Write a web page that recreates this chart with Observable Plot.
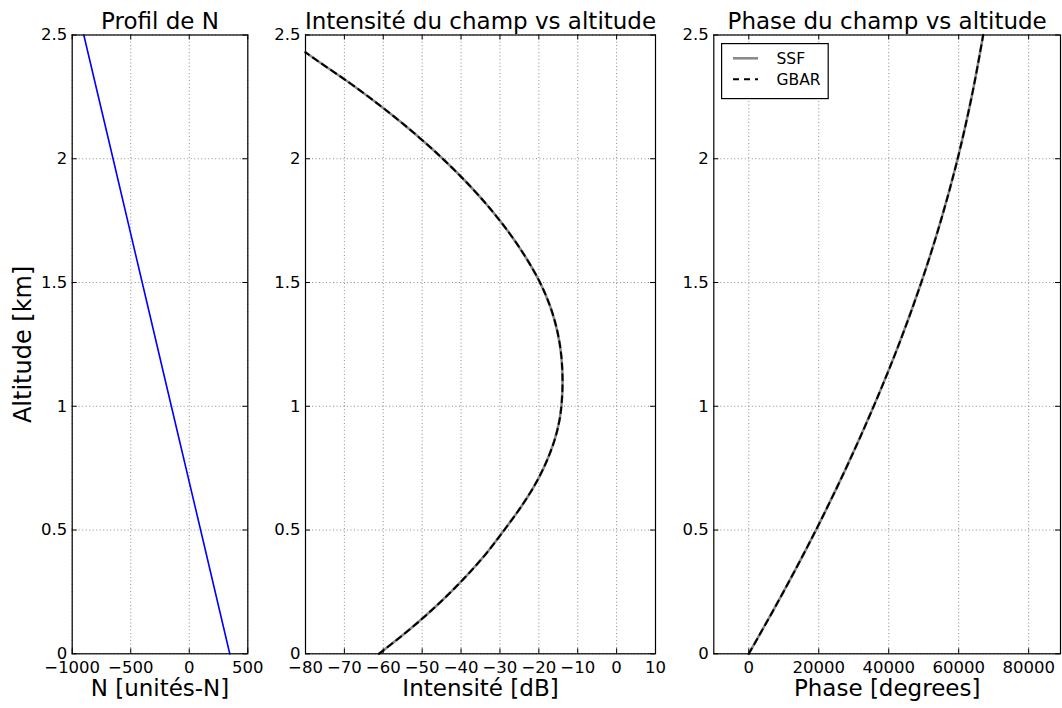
<!DOCTYPE html>
<html><head><meta charset="utf-8">
<script src="https://cdn.jsdelivr.net/npm/d3@7"></script>
<script src="https://cdn.jsdelivr.net/npm/@observablehq/plot@0.6"></script>
<style>
body{margin:0;background:#fff;}
#fig{position:relative;width:1062px;height:708px;overflow:hidden;font-family:"DejaVu Sans",sans-serif;background:#fff;}
#fig > svg{position:absolute;top:0;}
</style></head><body><div id="fig"></div>
<script>
// ---- Data ----
const nAltitude = [0, 0.5, 1, 1.5, 2, 2.5];
const nValues = [346, 97, -153, -402, -651, -901];

const intensityAltitude = [0, 0.1, 0.2, 0.3, 0.4, 0.5, 0.6, 0.7, 0.8, 0.9, 1.0, 1.1, 1.2, 1.3, 1.4, 1.5, 1.6, 1.7, 1.8, 1.9, 2.0, 2.1, 2.2, 2.3, 2.4, 2.43];
const intensitySSF  = [-61.1, -53.1, -45.9, -39.5, -33.8, -28.9, -24.3, -20.4, -17.4, -15.3, -14.2, -13.9, -14.2, -15.2, -17.0, -19.7, -23.3, -27.6, -32.6, -38.3, -44.7, -51.8, -59.6, -68.1, -77.3, -80];
const intensityGBAR = [-61.1, -53.1, -45.9, -39.5, -33.8, -28.9, -24.3, -20.4, -17.4, -15.3, -14.2, -13.9, -14.2, -15.2, -17.0, -19.7, -23.3, -27.6, -32.6, -38.3, -44.7, -51.8, -59.6, -68.1, -77.3, -80];

const phaseAltitude = [0, 0.25, 0.5, 0.75, 1.0, 1.25, 1.5, 1.75, 2.0, 2.25, 2.5];
const phaseSSF  = [0, 9900, 19200, 27800, 35700, 42900, 49300, 54900, 59700, 63700, 67000];
const phaseGBAR = [0, 9900, 19200, 27800, 35700, 42900, 49300, 54900, 59700, 63700, 67000];

const altitudeTicks = [0, 0.5, 1, 1.5, 2, 2.5];
const nTicks = [-1000, -500, 0, 500];
const intensityTicks = [-80, -70, -60, -50, -40, -30, -20, -10, 0, 10];
const phaseTicks = [0, 20000, 40000, 60000, 80000];

const titles = ["Profil de N", "Intensité du champ vs altitude", "Phase du champ vs altitude"];
const xLabels = ["N [unités-N]", "Intensité [dB]", "Phase [degrees]"];
const yLabel = "Altitude [km]";
const legendLabels = ["SSF", "GBAR"];

// ---- Layout ----
const H = 708, mTop = 34.5, mBottom = 708 - 653.3, frameH = H - mTop - mBottom;
const fig = document.getElementById("fig");
const gridStyle = {stroke: "#000", strokeOpacity: 0.5, strokeWidth: 0.9, strokeDasharray: "1,2.5"};
const fmtX = d3.format("d");
const fmtY = d3.format("~g");

function panel({left, marginLeft, frameW, marginRight, xDomain, xTicks, lines, title, xLabel, yLab}) {
  const inner = frameW;
  const marks = [
    Plot.gridX(xTicks, gridStyle),
    Plot.gridY(altitudeTicks, gridStyle),
    ...lines,
    Plot.frame({stroke: "black", strokeWidth: 1.2}),
    Plot.ruleX(xTicks, {x: d => d, insetTop: frameH - 5, stroke: "black"}),
    Plot.ruleX(xTicks, {x: d => d, insetBottom: frameH - 5, stroke: "black"}),
    Plot.ruleY(altitudeTicks, {y: d => d, insetRight: inner - 5, stroke: "black"}),
    Plot.ruleY(altitudeTicks, {y: d => d, insetLeft: inner - 5, stroke: "black"}),
    Plot.axisX(xTicks, {tickSize: 0, tickPadding: 7, fontSize: 16.5, label: null, tickFormat: fmtX}),
    Plot.axisY(altitudeTicks, {tickSize: 0, tickPadding: 5, fontSize: 16.5, label: null, tickFormat: fmtY}),
    Plot.text([title], {text: d => d, frameAnchor: "top", dy: -13, lineAnchor: "middle", fontSize: 23}),
    Plot.text([xLabel], {text: d => d, frameAnchor: "bottom", dy: 26, lineAnchor: "top", fontSize: 23})
  ];
  if (yLab) marks.push(Plot.text([yLab], {text: d => d, frameAnchor: "left", textAnchor: "middle", dx: -49, rotate: -90, lineAnchor: "middle", fontSize: 24}));
  const svg = Plot.plot({
    width: marginLeft + frameW + marginRight,
    height: H,
    marginTop: mTop, marginBottom: mBottom, marginLeft, marginRight,
    style: {fontFamily: "DejaVu Sans", fontSize: "16.5px", color: "black", background: "transparent", overflow: "visible"},
    x: {domain: xDomain},
    y: {domain: [0, 2.5]},
    marks
  });
  svg.style.left = left + "px";
  fig.appendChild(svg);
}

const nData = nAltitude.map((h, i) => ({h, v: nValues[i]}));
const intData = intensityAltitude.map((h, i) => ({h, ssf: intensitySSF[i], gbar: intensityGBAR[i]}));
const phData = phaseAltitude.map((h, i) => ({h, ssf: phaseSSF[i], gbar: phaseGBAR[i]}));

const ssfStyle = {stroke: "#8a8a8a", strokeWidth: 2.6, curve: "monotone-y"};
const gbarStyle = {stroke: "#000", strokeWidth: 2, strokeDasharray: "6,5", curve: "monotone-y"};

panel({left: 0, marginLeft: 71.7, frameW: 175.6, marginRight: 12, xDomain: [-1000, 500], xTicks: nTicks,
  lines: [Plot.line(nData, {x: "v", y: "h", stroke: "#0000ff", strokeWidth: 1.6})],
  title: titles[0], xLabel: xLabels[0], yLab: yLabel});

panel({left: 260, marginLeft: 45, frameW: 350, marginRight: 12, xDomain: [-80, 10], xTicks: intensityTicks,
  lines: [Plot.line(intData, {x: "ssf", y: "h", ...ssfStyle}), Plot.line(intData, {x: "gbar", y: "h", ...gbarStyle})],
  title: titles[1], xLabel: xLabels[1]});

panel({left: 668, marginLeft: 45.3, frameW: 346.7, marginRight: 2, xDomain: [-10000, 89100], xTicks: phaseTicks,
  lines: [Plot.line(phData, {x: "ssf", y: "h", ...ssfStyle}), Plot.line(phData, {x: "gbar", y: "h", ...gbarStyle})],
  title: titles[2], xLabel: xLabels[2]});

// ---- Legend (panel 3) ----
const ns = "http://www.w3.org/2000/svg";
const lg = document.createElementNS(ns, "svg");
lg.setAttribute("width", 108); lg.setAttribute("height", 57);
lg.style.left = "721px"; lg.style.top = "43px";
const box = document.createElementNS(ns, "rect");
Object.entries({x: 0.6, y: 0.6, width: 106.6, height: 55, fill: "#fff", stroke: "#000", "stroke-width": 1.2}).forEach(([k, v]) => box.setAttribute(k, v));
lg.appendChild(box);
const swatches = [{stroke: "#8a8a8a", w: 2.6, dash: null}, {stroke: "#000", w: 2, dash: "6,5"}];
legendLabels.forEach((lab, i) => {
  const y = 15.3 + i * 21;
  const ln = document.createElementNS(ns, "line");
  Object.entries({x1: 12, x2: 37, y1: y, y2: y, stroke: swatches[i].stroke, "stroke-width": swatches[i].w}).forEach(([k, v]) => ln.setAttribute(k, v));
  if (swatches[i].dash) ln.setAttribute("stroke-dasharray", swatches[i].dash);
  lg.appendChild(ln);
  const t = document.createElementNS(ns, "text");
  t.setAttribute("x", 55.5); t.setAttribute("y", y + 5.6);
  t.setAttribute("font-family", "DejaVu Sans"); t.setAttribute("font-size", "15.5");
  t.textContent = lab;
  lg.appendChild(t);
});
fig.appendChild(lg);
</script></body></html>
